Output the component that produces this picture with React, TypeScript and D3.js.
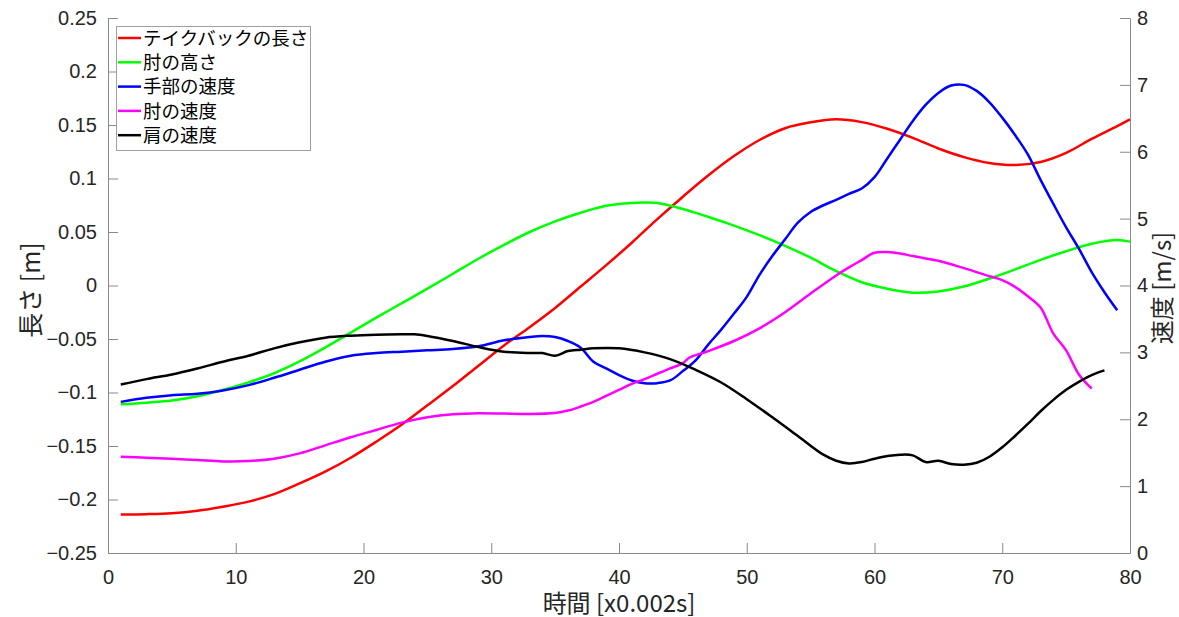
import React, { useRef, useEffect } from "react";
import * as d3 from "d3";

// 時間 [x0.002s] に対する各系列 (左軸: 長さ/高さ [m], 右軸: 速度 [m/s])
const takebackLength: [number, number][] = [
  [1, -0.214], [3, -0.2137], [5, -0.2128], [7, -0.2105], [9, -0.2067], [11, -0.202],
  [13, -0.195], [15, -0.185], [17, -0.174], [19, -0.161], [21, -0.146], [23, -0.13],
  [25, -0.112], [27, -0.094], [29, -0.075], [31, -0.056], [33, -0.039], [35, -0.021],
  [37, -0.001], [39, 0.019], [41, 0.04], [43, 0.062], [45, 0.083], [47, 0.103],
  [49, 0.121], [51, 0.136], [53, 0.147], [55, 0.1525], [57, 0.1553], [59, 0.1527],
  [61, 0.1465], [63, 0.138], [65, 0.128], [67, 0.12], [69, 0.1145], [71, 0.1126],
  [73, 0.1155], [75, 0.124], [77, 0.137], [79, 0.149], [80, 0.1553],
];

const elbowHeight: [number, number][] = [
  [1, -0.111], [3, -0.1095], [5, -0.1075], [7, -0.1035], [9, -0.0975], [11, -0.0905],
  [13, -0.082], [15, -0.071], [17, -0.058], [19, -0.044], [21, -0.03], [23, -0.0165],
  [25, -0.003], [27, 0.011], [29, 0.025], [31, 0.038], [33, 0.05], [35, 0.06],
  [37, 0.068], [39, 0.0745], [41, 0.0772], [42, 0.0775], [43, 0.077], [45, 0.0715],
  [47, 0.064], [49, 0.056], [51, 0.047], [53, 0.037], [55, 0.026], [57, 0.0135],
  [59, 0.003], [61, -0.003], [63, -0.0067], [65, -0.0055], [67, -0.001], [69, 0.0065],
  [71, 0.015], [73, 0.024], [75, 0.032], [77, 0.039], [79, 0.0425], [80, 0.041],
];

const handSpeed: [number, number][] = [
  [1, 2.26], [3, 2.32], [5, 2.36], [7, 2.38], [9, 2.43], [11, 2.51], [13, 2.62],
  [15, 2.74], [17, 2.86], [19, 2.95], [21, 2.99], [23, 3.01], [25, 3.03], [27, 3.05],
  [29, 3.09], [31, 3.18], [33, 3.23], [34, 3.245], [35, 3.23], [36, 3.17], [37, 3.07],
  [38, 2.86], [39, 2.76], [40, 2.66], [41, 2.58], [42, 2.54], [43, 2.54], [44, 2.58],
  [45, 2.72], [46, 2.88], [47, 3.12], [48, 3.34], [49, 3.58], [50, 3.83], [51, 4.16],
  [52, 4.44], [53, 4.69], [54, 4.94], [55, 5.1], [56, 5.2], [57, 5.28], [58, 5.37],
  [59, 5.45], [60, 5.62], [61, 5.9], [62, 6.18], [63, 6.46], [64, 6.7], [65, 6.88],
  [66, 6.99], [67, 7.0], [68, 6.91], [69, 6.74], [70, 6.51], [71, 6.25], [72, 5.96],
  [73, 5.58], [74, 5.22], [75, 4.87], [76, 4.55], [77, 4.2], [78, 3.9], [79, 3.63],
];

const elbowSpeed: [number, number][] = [
  [1, 1.44], [3, 1.425], [5, 1.41], [7, 1.39], [9, 1.37], [11, 1.375], [13, 1.41],
  [15, 1.49], [17, 1.61], [19, 1.73], [21, 1.84], [23, 1.95], [25, 2.03], [27, 2.075],
  [29, 2.09], [31, 2.085], [33, 2.08], [35, 2.095], [36, 2.13], [37, 2.19], [38, 2.26],
  [39, 2.35], [40, 2.44], [41, 2.53], [42, 2.6], [43, 2.68], [44, 2.76], [45, 2.84],
  [45.5, 2.92], [47, 3.02], [49, 3.17], [51, 3.36], [53, 3.6], [55, 3.88], [57, 4.15],
  [58, 4.27], [59, 4.38], [60, 4.49], [61, 4.5], [62, 4.48], [63, 4.44], [65, 4.37],
  [67, 4.26], [69, 4.14], [70, 4.08], [71, 3.98], [72, 3.84], [73, 3.67], [74, 3.28],
  [75, 3.03], [76, 2.67], [77, 2.46],
];

const shoulderSpeed: [number, number][] = [
  [1, 2.52], [3, 2.6], [5, 2.67], [7, 2.76], [9, 2.86], [11, 2.95], [13, 3.06],
  [15, 3.15], [17, 3.22], [19, 3.25], [21, 3.265], [23, 3.27], [24, 3.27], [25, 3.245],
  [27, 3.17], [29, 3.08], [31, 3.01], [33, 2.99], [34, 2.99], [35, 2.95], [36, 3.02],
  [37, 3.04], [38, 3.06], [40, 3.06], [42, 3.0], [44, 2.9], [46, 2.74], [48, 2.55],
  [50, 2.3], [52, 2.03], [54, 1.75], [56, 1.47], [57, 1.38], [58, 1.34], [59, 1.36],
  [60, 1.41], [61, 1.45], [62, 1.47], [63, 1.46], [64, 1.36], [65, 1.38], [66, 1.33],
  [67, 1.32], [68, 1.35], [69, 1.44], [70, 1.58], [71, 1.75], [72, 1.93], [73, 2.12],
  [74, 2.29], [75, 2.44], [76, 2.56], [77, 2.66], [78, 2.73],
];

const legendLabels = ["テイクバックの長さ", "肘の高さ", "手部の速度", "肘の速度", "肩の速度"];
const leftTicks = [-0.25, -0.2, -0.15, -0.1, -0.05, 0, 0.05, 0.1, 0.15, 0.2, 0.25];
const rightTicks = [0, 1, 2, 3, 4, 5, 6, 7, 8];
const xTicks = [0, 10, 20, 30, 40, 50, 60, 70, 80];

const W = 1179;
const H = 617;
const left = 108;
const right = 1130;
const top = 18;
const bottom = 553;

const jp = "'Noto Sans CJK JP', sans-serif";
const num = "'Liberation Sans', Arial, sans-serif";

const App = () => {
  const svgRef = useRef<SVGSVGElement>(null);

  const x = d3.scaleLinear().domain([0, 80]).range([left, right]);
  const yL = d3.scaleLinear().domain([-0.25, 0.25]).range([bottom, top]);
  const yR = d3.scaleLinear().domain([0, 8]).range([bottom, top]);

  const lineL = d3.line<[number, number]>()
    .x((d) => x(d[0]))
    .y((d) => yL(d[1]))
    .curve(d3.curveCatmullRom.alpha(0.5));
  const lineR = d3.line<[number, number]>()
    .x((d) => x(d[0]))
    .y((d) => yR(d[1]))
    .curve(d3.curveCatmullRom.alpha(0.5));

  const series = [
    { data: takebackLength, color: "#ff0000", line: lineL },
    { data: elbowHeight, color: "#00ff00", line: lineL },
    { data: handSpeed, color: "#0000ff", line: lineR },
    { data: elbowSpeed, color: "#ff00ff", line: lineR },
    { data: shoulderSpeed, color: "#000000", line: lineR },
  ];

  useEffect(() => {
    const svg = d3.select(svgRef.current);
    const fmt = (d: d3.NumberValue) => String(+(+d).toFixed(2)).replace("-", "\u2212");

    svg.select<SVGGElement>(".y-left")
      .attr("transform", `translate(${left},0)`)
      .call(d3.axisLeft(yL).tickValues(leftTicks).tickFormat(fmt).tickSizeInner(-10).tickSizeOuter(0).tickPadding(11));
    svg.select<SVGGElement>(".y-right")
      .attr("transform", `translate(${right},0)`)
      .call(d3.axisRight(yR).tickValues(rightTicks).tickSizeInner(-10).tickSizeOuter(0).tickPadding(7));
    svg.select<SVGGElement>(".x-axis")
      .attr("transform", `translate(0,${bottom})`)
      .call(d3.axisBottom(x).tickValues(xTicks).tickSizeInner(-10).tickSizeOuter(0).tickPadding(17));

    svg.selectAll(".axis path, .axis line").attr("stroke", "#8a8a8a").attr("stroke-width", 1);
    svg.selectAll(".axis text")
      .attr("fill", "#262626")
      .style("font-family", num)
      .style("font-size", "20px");
  }, []);

  return (
    <svg
      ref={svgRef}
      width={W}
      height={H}
      style={{ position: "absolute", left: 0, top: 0, background: "#fff" }}
    >
      <rect width={W} height={H} fill="#fff" />
      <g className="axis x-axis" />
      <g className="axis y-left" />
      <g className="axis y-right" />

      {series.map((s, i) => (
        <path key={i} d={s.line(s.data) ?? ""} fill="none" stroke={s.color} strokeWidth={2.5} strokeLinejoin="round" />
      ))}

      <g>
        <rect x={116.5} y={26.5} width={194} height={124} fill="#fff" stroke="#a0a0a0" strokeWidth={1} />
        {legendLabels.map((label, i) => (
          <g key={label} transform={`translate(0,${38 + i * 24.3})`}>
            <line x1={118} x2={141} y1={0} y2={0} stroke={series[i].color} strokeWidth={2.5} />
            <text x={143} y={0} dy="0.36em" fontFamily={jp} fontSize={18.5} fill="#000">
              {label}
            </text>
          </g>
        ))}
      </g>

      <text
        transform={`translate(31,290) rotate(-90)`}
        textAnchor="middle"
        dy="0.35em"
        fontFamily={jp}
        fontSize={25}
        fill="#262626"
      >
        長さ [m]
      </text>
      <text
        transform={`translate(1163,288) rotate(-90)`}
        textAnchor="middle"
        dy="0.35em"
        fontFamily={jp}
        fontSize={24}
        fill="#262626"
      >
        速度 [m/s]
      </text>
      <text
        x={(left + right) / 2}
        y={604}
        textAnchor="middle"
        dy="0.35em"
        fontFamily={jp}
        fontSize={24}
        fill="#262626"
      >
        時間 [x0.002s]
      </text>
    </svg>
  );
};

export default App;
